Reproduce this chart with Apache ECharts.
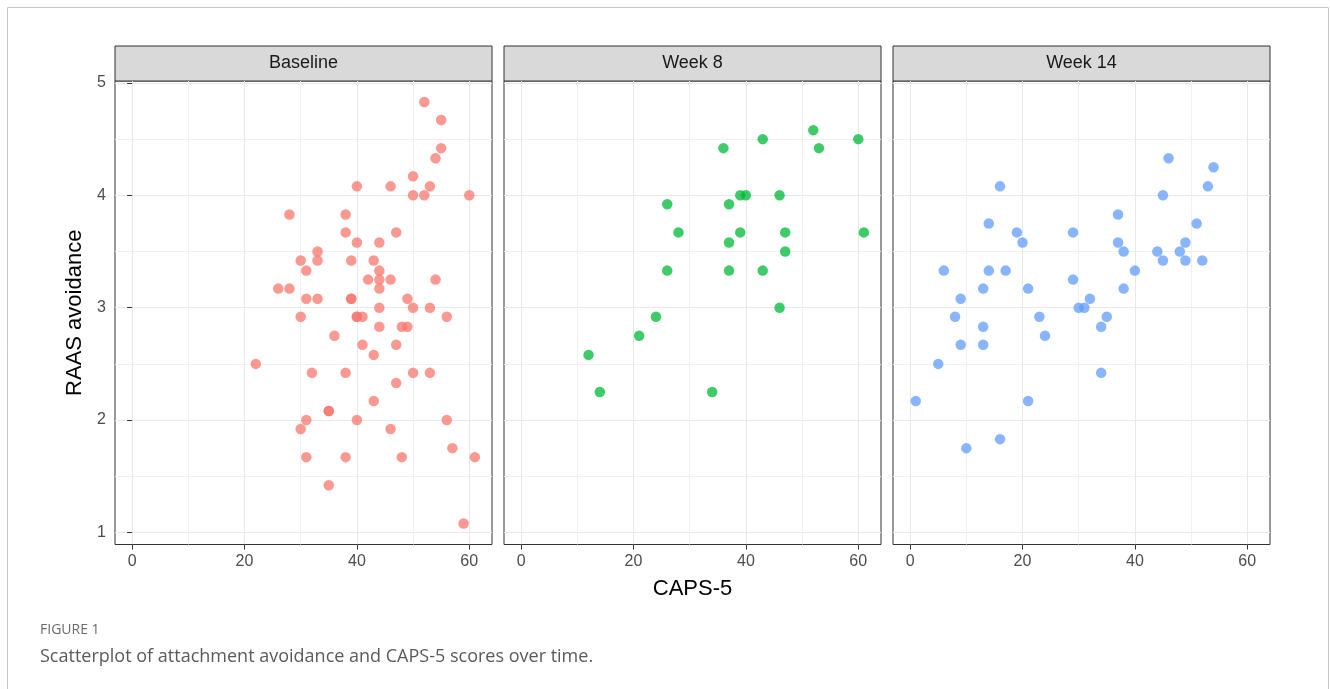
<!DOCTYPE html>
<html>
<head>
<meta charset="utf-8">
<script src="https://cdn.jsdelivr.net/npm/echarts@6/dist/echarts.min.js"></script>
<style>
  html, body { margin: 0; padding: 0; background: #fff; }
  #chart { width: 1330px; height: 689px; }
</style>
</head>
<body>
<div id="chart"></div>
<script>
// facet names + data (CAPS-5 on x, RAAS avoidance on y)
var panelNames = ['Baseline', 'Week 8', 'Week 14'];

var baselineCaps = [52, 55, 55, 54, 50, 40, 46, 53, 50, 52, 60, 28, 38, 38, 47, 40, 44, 33, 30, 33, 39, 43, 31, 44,
  42, 44, 46, 54, 26, 28, 44, 31, 33, 39, 39, 49, 44, 50, 53, 30, 40, 40, 41, 56, 44, 48, 49, 36, 41, 47, 43, 22,
  32, 38, 50, 53, 47, 43, 35, 35, 31, 40, 56, 30, 46, 57, 31, 38, 48, 61, 35, 59];
var baselineRaas = [4.83, 4.67, 4.42, 4.33, 4.17, 4.08, 4.08, 4.08, 4.00, 4.00, 4.00, 3.83, 3.83, 3.67, 3.67, 3.58,
  3.58, 3.50, 3.42, 3.42, 3.42, 3.42, 3.33, 3.33, 3.25, 3.25, 3.25, 3.25, 3.17, 3.17, 3.17, 3.08, 3.08, 3.08, 3.08,
  3.08, 3.00, 3.00, 3.00, 2.92, 2.92, 2.92, 2.92, 2.92, 2.83, 2.83, 2.83, 2.75, 2.67, 2.67, 2.58, 2.50, 2.42, 2.42,
  2.42, 2.42, 2.33, 2.17, 2.08, 2.08, 2.00, 2.00, 2.00, 1.92, 1.92, 1.75, 1.67, 1.67, 1.67, 1.67, 1.42, 1.08];

var week8Caps = [52, 43, 60, 36, 53, 39, 40, 46, 26, 37, 28, 39, 47, 61, 37, 47, 26, 37, 43, 46, 24, 21, 12, 14, 34];
var week8Raas = [4.58, 4.50, 4.50, 4.42, 4.42, 4.00, 4.00, 4.00, 3.92, 3.92, 3.67, 3.67, 3.67, 3.67, 3.58, 3.50,
  3.33, 3.33, 3.33, 3.00, 2.92, 2.75, 2.58, 2.25, 2.25];

var week14Caps = [46, 54, 16, 53, 45, 37, 14, 51, 19, 29, 20, 37, 49, 38, 44, 48, 45, 49, 52, 6, 14, 17, 40, 29,
  13, 21, 38, 9, 32, 30, 31, 8, 23, 35, 13, 34, 24, 9, 13, 5, 34, 1, 21, 16, 10];
var week14Raas = [4.33, 4.25, 4.08, 4.08, 4.00, 3.83, 3.75, 3.75, 3.67, 3.67, 3.58, 3.58, 3.58, 3.50, 3.50, 3.50,
  3.42, 3.42, 3.42, 3.33, 3.33, 3.33, 3.33, 3.25, 3.17, 3.17, 3.17, 3.08, 3.08, 3.00, 3.00, 2.92, 2.92, 2.92, 2.83,
  2.83, 2.75, 2.67, 2.67, 2.50, 2.42, 2.17, 2.17, 1.83, 1.75];

var xTicks = [0, 20, 40, 60];
var xMinor = [10, 30, 50];
var yTicks = [1, 2, 3, 4, 5];
var yMinor = [1.5, 2.5, 3.5, 4.5];

var panelColors = ['#F8766D', '#00BA38', '#619CFF'];
var panelX = [baselineCaps, week8Caps, week14Caps];
var panelY = [baselineRaas, week8Raas, week14Raas];

var FONT = 'Liberation Sans, Arial, sans-serif';
var lefts = [115, 504, 893];
var W = 377, TOP = 81, H = 463.5;
var X_MIN = -3.05, X_MAX = 64.05, Y_MIN = 0.8925, Y_MAX = 5.0175;

var grids = [], xAxes = [], yAxes = [], series = [], graphics = [];

// outer frame of the figure
graphics.push({
  type: 'rect', shape: { x: 7.5, y: 7.5, width: 1321, height: 720 },
  style: { fill: 'none', stroke: '#c6c6c6', lineWidth: 1 }, silent: true
});

panelNames.forEach(function (name, i) {
  grids.push({
    left: lefts[i], top: TOP, width: W, height: H,
    show: true, backgroundColor: '#fff', borderColor: '#333', borderWidth: 1
  });
  // major x
  xAxes.push({
    gridIndex: i, type: 'value', min: X_MIN, max: X_MAX, position: 'bottom',
    axisLine: { show: false },
    axisTick: { show: true, customValues: xTicks, length: 5, lineStyle: { color: '#333' } },
    axisLabel: { customValues: xTicks, color: '#4d4d4d', fontSize: 16, margin: 9, fontFamily: FONT },
    splitLine: { show: true, lineStyle: { color: '#e8e8e8', width: 1 } },
    name: i === 1 ? 'CAPS-5' : '', nameLocation: 'middle', nameGap: 33,
    nameTextStyle: { color: '#000', fontSize: 22, fontFamily: FONT }
  });
  // minor x grid
  xAxes.push({
    gridIndex: i, type: 'value', min: X_MIN, max: X_MAX, position: 'top',
    axisLine: { show: false },
    axisTick: { show: false, customValues: xMinor },
    axisLabel: { show: false },
    splitLine: { show: true, lineStyle: { color: '#f0f0f0', width: 1 } }
  });
  // major y
  yAxes.push({
    gridIndex: i, type: 'value', min: Y_MIN, max: Y_MAX, position: 'left',
    axisLine: { show: false },
    axisTick: { show: i === 0, customValues: yTicks, length: 5, lineStyle: { color: '#333' } },
    axisLabel: { show: i === 0, customValues: yTicks, color: '#4d4d4d', fontSize: 16, margin: 9, fontFamily: FONT },
    splitLine: { show: true, lineStyle: { color: '#e8e8e8', width: 1 } },
    name: i === 0 ? 'RAAS avoidance' : '', nameLocation: 'middle', nameGap: 29,
    nameTextStyle: { color: '#000', fontSize: 22, fontFamily: FONT }
  });
  // minor y grid
  yAxes.push({
    gridIndex: i, type: 'value', min: Y_MIN, max: Y_MAX, position: 'right',
    axisLine: { show: false },
    axisTick: { show: false, customValues: yMinor },
    axisLabel: { show: false },
    splitLine: { show: true, lineStyle: { color: '#f0f0f0', width: 1 } }
  });

  var pts = panelX[i].map(function (x, k) { return [x, panelY[i][k]]; });
  series.push({
    name: name, type: 'scatter', xAxisIndex: 2 * i, yAxisIndex: 2 * i,
    data: pts, symbolSize: 10.5,
    itemStyle: { color: panelColors[i], opacity: 0.75 },
    emphasis: { disabled: true }, silent: true
  });

  // facet strip
  graphics.push({
    type: 'rect', shape: { x: lefts[i], y: 46, width: W, height: 35 },
    style: { fill: '#d9d9d9', stroke: '#333', lineWidth: 1 }, silent: true
  });
  graphics.push({
    type: 'text', x: lefts[i] + W / 2, y: 63.5,
    style: { text: name, fill: '#1a1a1a', font: '18px ' + FONT, align: 'center', verticalAlign: 'middle' },
    silent: true
  });
});

// caption
graphics.push({
  type: 'text', x: 40, y: 630,
  style: { text: 'FIGURE 1', fill: '#6b6b6b', font: '14px "Open Sans", sans-serif', verticalAlign: 'middle' }
});
graphics.push({
  type: 'text', x: 40, y: 657,
  style: { text: 'Scatterplot of attachment avoidance and CAPS-5 scores over time.', fill: '#5a5a5a',
    font: '18px "Open Sans", sans-serif', verticalAlign: 'middle' }
});

var chart = echarts.init(document.getElementById('chart'));
chart.setOption({
  backgroundColor: '#fff',
  animation: false,
  grid: grids,
  xAxis: xAxes,
  yAxis: yAxes,
  series: series,
  graphic: graphics
});
</script>
</body>
</html>
